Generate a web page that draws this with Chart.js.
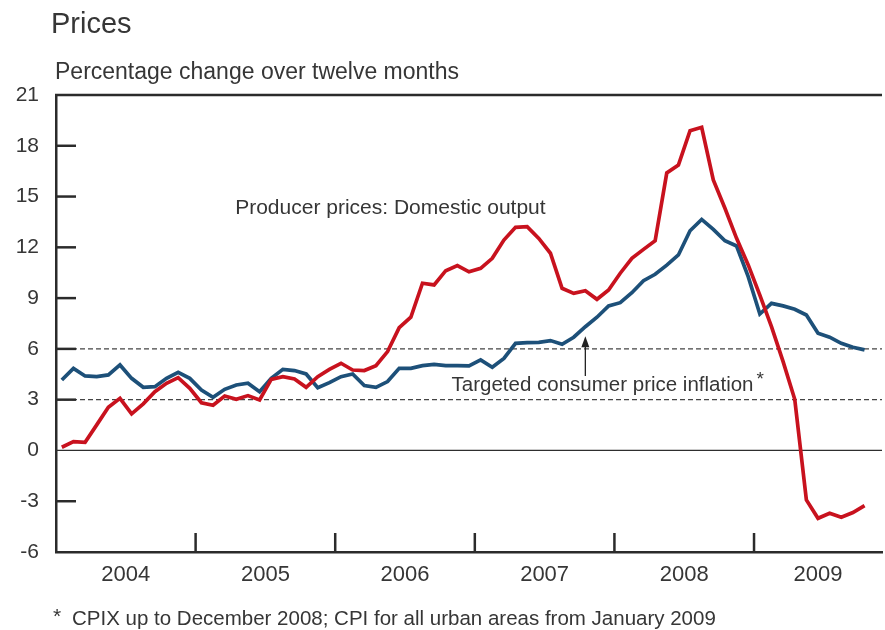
<!DOCTYPE html>
<html>
<head>
<meta charset="utf-8">
<script src="https://cdn.jsdelivr.net/npm/chart.js@4/dist/chart.umd.min.js"></script>
<style>
  html, body { margin: 0; padding: 0; background: #fff; }
  canvas { display: block; }
</style>
</head>
<body>
<canvas id="grafica" width="885" height="630"></canvas>
<script>
// datos mensuales, enero 2004 a octubre 2009
const years = ['2004', '2005', '2006', '2007', '2008', '2009'];
const monthNames = ['Jan', 'Feb', 'Mar', 'Apr', 'May', 'Jun', 'Jul', 'Aug', 'Sep', 'Oct', 'Nov', 'Dec'];

const producerPrices = [
  0.19, 0.52, 0.48, 1.51, 2.55, 3.08, 2.16, 2.75, 3.47, 3.97, 4.30, 3.67,
  2.82, 2.67, 3.22, 3.02, 3.24, 2.98, 4.20, 4.36, 4.22, 3.73, 4.36, 4.79,
  5.15, 4.75, 4.72, 5.01, 5.84, 7.25, 7.87, 9.88, 9.78, 10.62, 10.92, 10.55,
  10.76, 11.35, 12.43, 13.18, 13.22, 12.53, 11.65, 9.58, 9.28, 9.44, 8.93, 9.48,
  10.47, 11.35, 11.88, 12.39, 16.40, 16.86, 18.89, 19.09, 15.98, 14.31, 12.53, 10.96,
  9.18, 7.31, 5.25, 3.02, -2.92, -4.01, -3.71, -3.95, -3.67, -3.26
];

const consumerPrices = [
  4.16, 4.85, 4.40, 4.36, 4.46, 5.05, 4.26, 3.73, 3.77, 4.26, 4.62, 4.26,
  3.57, 3.14, 3.61, 3.87, 3.97, 3.47, 4.26, 4.79, 4.72, 4.52, 3.71, 4.01,
  4.36, 4.52, 3.83, 3.73, 4.07, 4.85, 4.85, 5.01, 5.09, 5.01, 5.01, 5.00,
  5.35, 4.91, 5.44, 6.33, 6.37, 6.39, 6.49, 6.27, 6.69, 7.31, 7.87, 8.54,
  8.73, 9.32, 10.03, 10.41, 10.95, 11.55, 12.98, 13.65, 13.06, 12.39, 12.08, 10.27,
  8.06, 8.69, 8.54, 8.34, 8.00, 6.92, 6.69, 6.33, 6.10, 5.94
];

// banda de la meta de inflación
const targetBand = [3, 6];
const yTicks = [-6, -3, 0, 3, 6, 9, 12, 15, 18, 21];

const months = [];
years.forEach(y => monthNames.forEach(m => months.push(m + ' ' + y)));

const xMin = -0.5;
const xMax = 70.5;
const texto = '#363636';
const fuente = '"Liberation Sans", Arial, Helvetica, sans-serif';

function puntos(valores) {
  return valores.map((v, i) => ({ x: i, y: v }));
}

// centros de cada año sobre el eje
const centrosAnio = years.map((y, k) => {
  const ini = Math.max(12 * k - 0.5, xMin);
  const fin = Math.min(12 * k + 11.5, xMax);
  return (ini + fin) / 2;
});
const cortesAnio = years.slice(1).map((y, k) => 12 * (k + 1) - 0.5);

function linea(ctx, x1, y1, x2, y2) {
  ctx.beginPath();
  ctx.moveTo(x1, y1);
  ctx.lineTo(x2, y2);
  ctx.stroke();
}

const decorado = {
  id: 'decorado',
  beforeDatasetsDraw(chart) {
    const { ctx, chartArea: a, scales: { y } } = chart;
    ctx.save();
    ctx.strokeStyle = '#2e2e2e';
    ctx.lineWidth = 1.2;
    const y0 = y.getPixelForValue(0);
    linea(ctx, a.left, y0, a.right, y0);

    ctx.setLineDash([5, 3]);
    ctx.lineWidth = 1.2;
    ctx.strokeStyle = '#444';
    targetBand.forEach(v => {
      const py = y.getPixelForValue(v);
      linea(ctx, a.left, py, a.right, py);
    });
    ctx.restore();
  },
  afterDatasetsDraw(chart) {
    const { ctx, chartArea: a, scales: { x, y } } = chart;
    ctx.save();
    ctx.strokeStyle = '#2b2b2b';
    ctx.lineWidth = 2.5;

    // marcas hacia adentro
    yTicks.filter(v => v !== 0 && v !== 21 && v !== -6).forEach(v => {
      const py = y.getPixelForValue(v);
      linea(ctx, a.left, py, a.left + 20, py);
    });
    cortesAnio.forEach(v => {
      const px = x.getPixelForValue(v);
      linea(ctx, px, a.bottom, px, a.bottom - 19);
    });
    // borde superior
    linea(ctx, a.left - 1, a.top, a.right, a.top);

    // flecha
    ctx.lineWidth = 1.3;
    ctx.strokeStyle = '#222';
    const ax = x.getPixelForValue(45);
    const aTop = y.getPixelForValue(6.75);
    const aBot = y.getPixelForValue(4.4);
    linea(ctx, ax, aBot, ax, aTop + 8);
    ctx.fillStyle = '#222';
    ctx.beginPath();
    ctx.moveTo(ax, aTop);
    ctx.lineTo(ax - 4, aTop + 11);
    ctx.lineTo(ax + 4, aTop + 11);
    ctx.closePath();
    ctx.fill();

    // textos
    ctx.fillStyle = texto;
    ctx.textBaseline = 'alphabetic';
    ctx.textAlign = 'left';
    ctx.font = '21px ' + fuente;
    ctx.fillText('Producer prices: Domestic output', x.getPixelForValue(14.9), y.getPixelForValue(13.97));
    const tx = x.getPixelForValue(33.5);
    const ty = y.getPixelForValue(3.51);
    const etiqueta = 'Targeted consumer price inflation';
    ctx.font = '20.5px ' + fuente;
    ctx.fillText(etiqueta, tx, ty);
    const w = ctx.measureText(etiqueta).width;
    ctx.font = '19px ' + fuente;
    ctx.fillText('*', tx + w + 3, ty - 6);

    ctx.font = '29px ' + fuente;
    ctx.fillText('Prices', 51, 33);
    ctx.font = '23px ' + fuente;
    ctx.fillText('Percentage change over twelve months', 55, 79);

    ctx.font = '21px ' + fuente;
    ctx.fillText('*', 53, 623);
    ctx.font = '20.5px ' + fuente;
    ctx.fillText('CPIX up to December 2008; CPI for all urban areas from January 2009', 72, 625);
    ctx.restore();
  }
};

const ctx = document.getElementById('grafica').getContext('2d');
new Chart(ctx, {
  type: 'line',
  data: {
    labels: months.slice(0, producerPrices.length),
    datasets: [
      {
        label: 'Producer prices: Domestic output',
        data: puntos(producerPrices),
        borderColor: '#c8121e',
        borderWidth: 3.7,
        pointRadius: 0,
        tension: 0,
        fill: false
      },
      {
        label: 'Targeted consumer price inflation',
        data: puntos(consumerPrices),
        borderColor: '#1d5079',
        borderWidth: 3.7,
        pointRadius: 0,
        tension: 0,
        fill: false
      }
    ]
  },
  options: {
    responsive: false,
    animation: false,
    layout: { padding: { top: 95, right: 3, left: 0, bottom: 0 } },
    plugins: {
      legend: { display: false },
      tooltip: { enabled: false }
    },
    scales: {
      x: {
        type: 'linear',
        min: xMin,
        max: xMax,
        afterBuildTicks(scale) {
          scale.ticks = centrosAnio.map(v => ({ value: v }));
        },
        afterFit(scale) { scale.height = 78; },
        grid: { display: false, drawTicks: false },
        border: { color: '#2b2b2b', width: 2.5 },
        ticks: {
          padding: 10,
          maxRotation: 0,
          autoSkip: false,
          color: texto,
          font: { family: fuente, size: 22 },
          callback: (v, i) => years[i]
        }
      },
      y: {
        min: -6,
        max: 21,
        afterBuildTicks(scale) {
          scale.ticks = yTicks.map(v => ({ value: v }));
        },
        afterFit(scale) { scale.width = 56; },
        grid: { display: false, drawTicks: false },
        border: { color: '#2b2b2b', width: 2.5 },
        ticks: {
          padding: 17,
          color: texto,
          font: { family: fuente, size: 21 }
        }
      }
    }
  },
  plugins: [decorado]
});
</script>
</body>
</html>
